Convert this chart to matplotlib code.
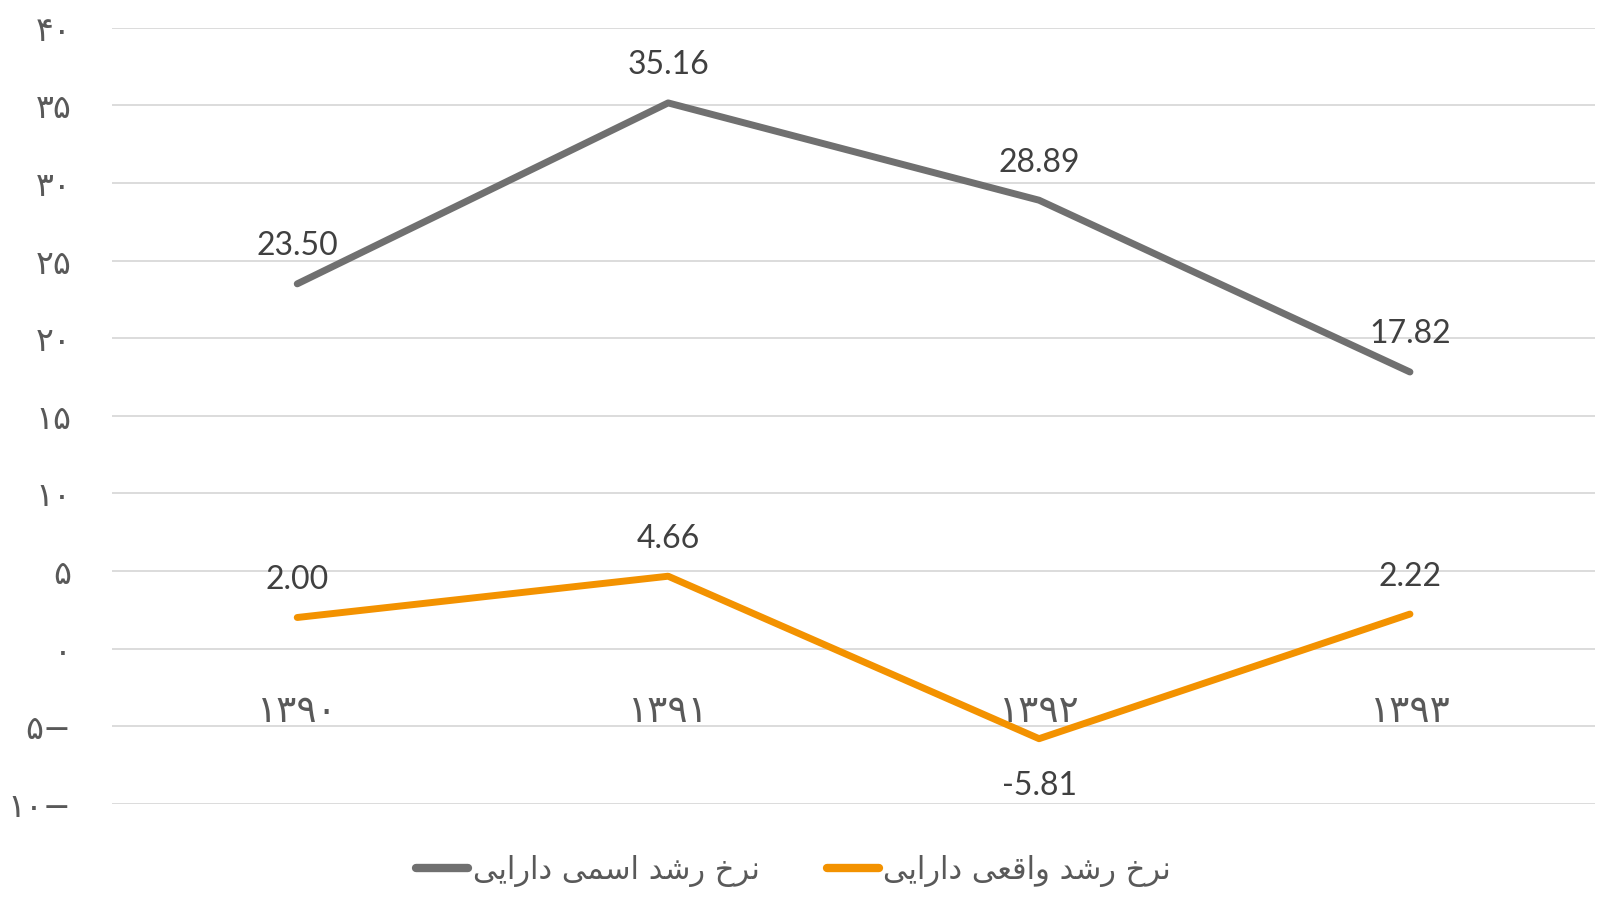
import matplotlib
matplotlib.use("Agg")
import matplotlib.pyplot as plt
from matplotlib.lines import Line2D

# ---------------- data ----------------
years = ["۱۳۹۰", "۱۳۹۱", "۱۳۹۲", "۱۳۹۳"]
nominal = [23.50, 35.16, 28.89, 17.82]
real = [2.00, 4.66, -5.81, 2.22]
series_names = ["نرخ رشد اسمی دارایی", "نرخ رشد واقعی دارایی"]
yticks = [-10, -5, 0, 5, 10, 15, 20, 25, 30, 35, 40]

# ---------------- minimal Persian shaping (presentation forms + visual order) ----------------
FORMS = {  # isolated, final, initial, medial
    "ا": ("\uFE8D", "\uFE8E", None, None),
    "د": ("\uFEA9", "\uFEAA", None, None),
    "ر": ("\uFEAD", "\uFEAE", None, None),
    "و": ("\uFEED", "\uFEEE", None, None),
    "ن": ("\uFEE5", "\uFEE6", "\uFEE7", "\uFEE8"),
    "خ": ("\uFEA5", "\uFEA6", "\uFEA7", "\uFEA8"),
    "ش": ("\uFEB5", "\uFEB6", "\uFEB7", "\uFEB8"),
    "س": ("\uFEB1", "\uFEB2", "\uFEB3", "\uFEB4"),
    "م": ("\uFEE1", "\uFEE2", "\uFEE3", "\uFEE4"),
    "ق": ("\uFED5", "\uFED6", "\uFED7", "\uFED8"),
    "ع": ("\uFEC9", "\uFECA", "\uFECB", "\uFECC"),
    "ی": ("\uFEEF", "\uFEF0", "\uFEF3", "\uFEF4"),
}


def dual(c):
    return c in FORMS and FORMS[c][2] is not None


def shape(text):
    out = []
    for i, c in enumerate(text):
        if c not in FORMS:
            out.append(c)
            continue
        prev = text[i - 1] if i > 0 else ""
        nxt = text[i + 1] if i + 1 < len(text) else ""
        jp = dual(prev)
        jn = dual(c) and nxt in FORMS
        iso, fin, ini, med = FORMS[c]
        if jp and jn:
            out.append(med)
        elif jp:
            out.append(fin)
        elif jn:
            out.append(ini)
        else:
            out.append(iso)
    return "".join(reversed(out))


def fa_num(v):
    digits = "۰۱۲۳۴۵۶۷۸۹"
    s = "".join(digits[int(d)] for d in str(abs(v)))
    return s + "\u2212" if v < 0 else s


# ---------------- styling ----------------
GRAY = "#707070"
ORANGE = "#F39200"
GRID = "#D9D9D9"
TXT = "#404040"
TICK = "#595959"

fig = plt.figure(figsize=(15.97, 8.97), dpi=100)
ax = fig.add_axes([0.070, 0.104, 0.929, 0.865])

for s in ax.spines.values():
    s.set_visible(False)
ax.spines["bottom"].set_position(("data", 0))

x = list(range(len(years)))
ax.plot(x, nominal, color=GRAY, lw=5, solid_capstyle="round", solid_joinstyle="round", zorder=3)
ax.plot(x, real, color=ORANGE, lw=5, solid_capstyle="round", solid_joinstyle="round", zorder=3)

for xi, v in zip(x, nominal):
    ax.annotate(f"{v:.2f}", (xi, v), xytext=(0, 27), textcoords="offset points",
                ha="center", va="center", fontsize=23, color=TXT, family="Lato")
for xi, v in zip(x, real):
    off = 27 if v >= 0 else -34
    ax.annotate(f"{v:.2f}", (xi, v), xytext=(0, off), textcoords="offset points",
                ha="center", va="center", fontsize=23, color=TXT, family="Lato")

ax.set_xlim(-0.5, len(years) - 0.5)
ax.set_ylim(-10, 40)
ax.set_yticks(yticks)
ax.set_yticklabels([fa_num(t) for t in yticks], fontsize=24, color=TICK, family="DejaVu Sans")
ax.yaxis.grid(True, color=GRID, lw=1.3)
ax.set_axisbelow(True)

ax.set_xticks(x)
ax.set_xticklabels(years, fontsize=27, color=TICK, family="DejaVu Sans")
ax.tick_params(axis="x", length=0, pad=33)
ax.tick_params(axis="y", length=0, pad=29)

handles = [Line2D([0], [0], color=GRAY, lw=6, solid_capstyle="round"),
           Line2D([0], [0], color=ORANGE, lw=6, solid_capstyle="round")]
leg = fig.legend(handles, [shape(n) for n in series_names], loc="center",
                 bbox_to_anchor=(0.497, 0.029), ncol=2, frameon=False,
                 prop={"family": "DejaVu Sans", "size": 22}, handlelength=1.7,
                 handletextpad=0.15, columnspacing=2.2)
for t in leg.get_texts():
    t.set_color(TICK)

fig.savefig("out.png", dpi=100)
